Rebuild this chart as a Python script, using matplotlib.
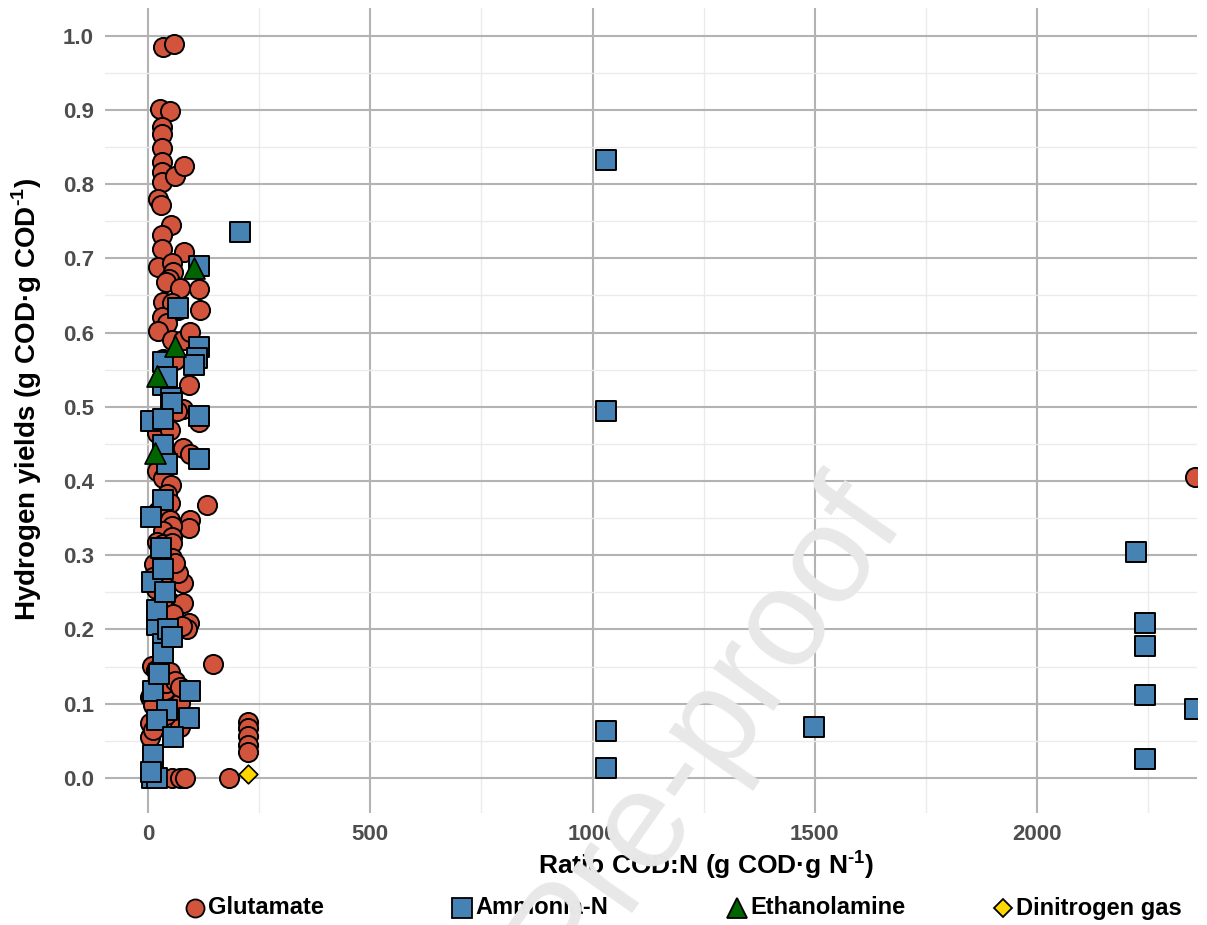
import matplotlib
matplotlib.use("Agg")
import numpy as np
import matplotlib.pyplot as plt
from matplotlib.lines import Line2D

plt.rcParams['font.family'] = ['Liberation Sans', 'DejaVu Sans']
plt.rcParams['font.weight'] = 'bold'
plt.rcParams['mathtext.fontset'] = 'custom'
plt.rcParams['mathtext.rm'] = 'Liberation Sans:bold'
plt.rcParams['mathtext.bf'] = 'Liberation Sans:bold'

# ~~~~~~~~~~~~~~~ data ~~~~~~~~~~~~~~~
glu_x = [34, 58, 27, 50, 32, 31, 31, 31, 31, 31, 61, 81, 22, 29, 52, 31, 31, 81,
         22, 54, 56, 47, 40, 72, 115, 34, 54, 67, 117, 31, 43, 22, 54, 79, 94,
         34, 31, 45, 61, 92, 54, 79, 65, 115, 20, 49, 79, 94, 20, 34, 52, 43,
         49, 133, 22, 94, 92, 49, 54, 34, 54, 20, 34, 54, 20, 54, 34, 79, 49,
         34, 79, 56, 92, 88, 76, 146, 9, 49, 5, 38, 72, 5, 72, 5, 11, 34, 54,
         72, 83, 182, 18, 9, 225, 225, 225, 225, 225, 2355, 13, 18, 11, 67,
         61, 18, 40, 61, 72, 20, 40, 11]
glu_y = [0.985, 0.989, 0.902, 0.898, 0.877, 0.867, 0.849, 0.830, 0.817, 0.803,
         0.811, 0.825, 0.780, 0.772, 0.745, 0.732, 0.712, 0.709, 0.689, 0.694,
         0.682, 0.672, 0.668, 0.660, 0.659, 0.641, 0.640, 0.631, 0.631, 0.621,
         0.613, 0.602, 0.590, 0.590, 0.601, 0.565, 0.554, 0.563, 0.563, 0.530,
         0.508, 0.497, 0.494, 0.480, 0.465, 0.469, 0.444, 0.437, 0.413, 0.404,
         0.395, 0.383, 0.370, 0.368, 0.360, 0.348, 0.337, 0.348, 0.339, 0.332,
         0.324, 0.318, 0.315, 0.316, 0.286, 0.296, 0.272, 0.262, 0.237, 0.230,
         0.236, 0.221, 0.209, 0.201, 0.204, 0.154, 0.151, 0.143, 0.109, 0.118,
         0.101, 0.074, 0.068, 0.055, 0.065, 0.0, 0.0, 0.0, 0.0, 0.0, 0.0,
         0.003, 0.075, 0.067, 0.057, 0.044, 0.035, 0.406, 0.288, 0.255, 0.270,
         0.276, 0.290, 0.145, 0.128, 0.130, 0.122, 0.090, 0.085, 0.098]

amm_x = [207, 115, 67, 115, 110, 103, 34, 34, 43, 52, 54, 7, 34, 115, 34, 115,
         43, 34, 7, 9, 34, 20, 20, 34, 34, 11, 94, 43, 20, 92, 56, 11, 11, 9,
         20, 7, 29, 38, 45, 54, 25,
         1030, 1030, 1030, 1030, 1498, 2222, 2244, 2244, 2244, 2244, 2355]
amm_y = [0.735, 0.690, 0.633, 0.581, 0.566, 0.557, 0.560, 0.530, 0.540, 0.512,
         0.505, 0.481, 0.483, 0.487, 0.449, 0.430, 0.423, 0.375, 0.352, 0.264,
         0.281, 0.206, 0.226, 0.180, 0.168, 0.117, 0.117, 0.092, 0.078, 0.081,
         0.055, 0.031, 0.003, 0.0, 0.0, 0.008, 0.310, 0.250, 0.200, 0.190,
         0.140,
         0.832, 0.495, 0.063, 0.013, 0.069, 0.305, 0.208, 0.178, 0.111, 0.026,
         0.093]

eth_x = [103, 61, 20, 16]
eth_y = [0.687, 0.582, 0.541, 0.438]

din_x = [225]
din_y = [0.005]

labels = ['Glutamate', 'Ammonia-N', 'Ethanolamine', 'Dinitrogen gas']
colors = ['#D2543D', '#4682B4', '#006400', '#FFD700']

fig = plt.figure(figsize=(12.07, 9.25), dpi=100)
ax = fig.add_axes([0.087, 0.121, 0.9047, 0.8704])

ax.scatter(glu_x, glu_y, s=190, marker='o', c=colors[0], edgecolors='black', linewidths=1.4, zorder=3)
ax.scatter(amm_x, amm_y, s=200, marker='s', c=colors[1], edgecolors='black', linewidths=1.4, zorder=4)
ax.scatter(eth_x, eth_y, s=230, marker='^', c=colors[2], edgecolors='black', linewidths=1.2, zorder=5)
ax.scatter(din_x, din_y, s=90, marker='D', c=colors[3], edgecolors='black', linewidths=1.2, zorder=6)

ax.set_xlim(-97, 2360)
ax.set_ylim(-0.0475, 1.0375)
ax.set_xticks([0, 500, 1000, 1500, 2000])
ax.set_xticks([250, 750, 1250, 1750, 2250], minor=True)
ax.set_yticks(np.arange(0, 1.01, 0.1))
ax.set_yticks(np.arange(0.05, 1.0, 0.1), minor=True)
ax.set_yticklabels(['%.1f' % v for v in np.arange(0, 1.01, 0.1)])
ax.grid(which='major', color='#b3b3b3', linewidth=1.5)
ax.grid(which='minor', color='#ebebeb', linewidth=1.0)
ax.set_axisbelow(True)
for sp in ax.spines.values():
    sp.set_visible(False)
ax.tick_params(which='both', length=0, labelsize=16, labelcolor='#4d4d4d', pad=8)

fig.text(0.585, 0.065, r'Ratio COD:N (g COD·g N$^{\text{-1}}$)', ha='center', va='center',
         fontsize=19, fontweight='bold')
fig.text(0.022, 0.568, r'Hydrogen yields (g COD·g COD$^{\text{-1}}$)', ha='center', va='center',
         rotation=90, fontsize=20, fontweight='bold')

# legend along the bottom
markers = ['o', 's', '^', 'D']
msizes = [13, 14, 15, 9]
key_x = [195, 462, 737, 1003]
for lab, col, mk, ms, kx in zip(labels, colors, markers, msizes, key_x):
    fig.add_artist(Line2D([kx / 1207], [1 - 908 / 925], marker=mk, markersize=ms,
                          markerfacecolor=col, markeredgecolor='black', markeredgewidth=1.3,
                          linestyle='none', transform=fig.transFigure))
    fig.text((kx + 13) / 1207, 1 - 908 / 925, lab, ha='left', va='center',
             fontsize=17, fontweight='bold')

# watermark
fig.text(0.585, 0.212, 'Pre-proof', rotation=55, ha='center', va='center',
         fontsize=100, fontweight='normal', color='#e8e8e8', zorder=10)

fig.savefig('out.png', dpi=100)
